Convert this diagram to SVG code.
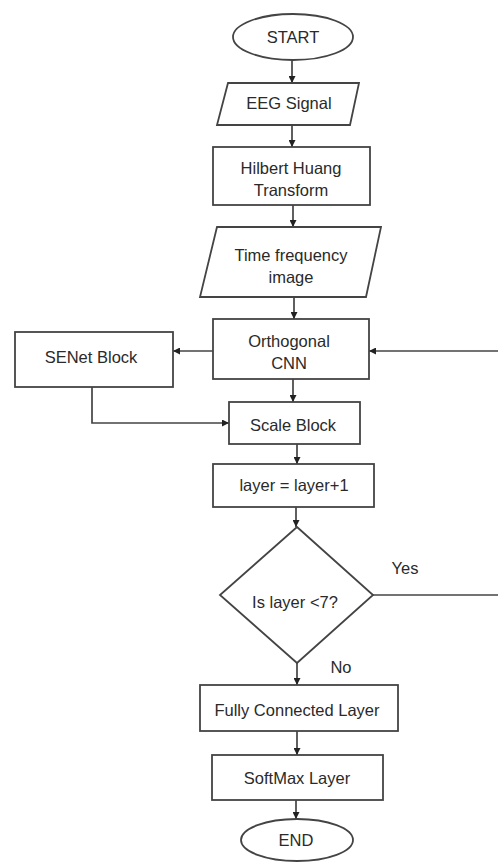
<svg xmlns="http://www.w3.org/2000/svg" width="498" height="863" viewBox="0 0 498 863">
<defs>
<marker id="ah" viewBox="0 0 8 8" refX="8" refY="4" markerWidth="7" markerHeight="7" markerUnits="userSpaceOnUse" orient="auto">
<path d="M0,0 L8,4 L0,8 z" fill="#222"/>
</marker>
<style>
.s{fill:#fff;stroke:#444;stroke-width:1.8}
.t{font-family:"Liberation Sans",Arial,sans-serif;font-size:16.5px;fill:#2a2a2a;text-anchor:middle}
.c{fill:none;stroke:#444;stroke-width:1.7}
.a{marker-end:url(#ah)}
</style>
</defs>
<rect width="498" height="863" fill="#fff"/>
<g id="connectors">
<line class="c a" x1="292" y1="60" x2="292" y2="83"/>
<line class="c a" x1="292" y1="125" x2="292" y2="147"/>
<line class="c a" x1="293" y1="205" x2="293" y2="227"/>
<line class="c a" x1="294" y1="297" x2="294" y2="319"/>
<line class="c a" x1="213" y1="351" x2="173" y2="351"/>
<line class="c a" x1="498" y1="351" x2="369" y2="351"/>
<line class="c a" x1="293" y1="379" x2="293" y2="402"/>
<polyline class="c a" points="92,387 92,423 229,423"/>
<line class="c a" x1="297" y1="444" x2="297" y2="464"/>
<line class="c a" x1="296" y1="507" x2="296" y2="527"/>
<line class="c" x1="373" y1="595" x2="498" y2="595"/>
<line class="c a" x1="297" y1="663" x2="297" y2="685"/>
<line class="c a" x1="297" y1="731" x2="297" y2="755"/>
<line class="c a" x1="296" y1="800" x2="296" y2="819"/>
</g>
<g id="start">
<ellipse class="s" cx="293" cy="37" rx="60" ry="23"/>
<text class="t" x="293" y="43">START</text>
</g>
<g id="eeg">
<polygon class="s" points="228,83 359,83 350,125 217,125"/>
<text class="t" x="289" y="109">EEG Signal</text>
</g>
<g id="hht">
<rect class="s" x="213" y="147" width="157" height="58"/>
<text class="t" x="291" y="174">Hilbert Huang</text>
<text class="t" x="291" y="196">Transform</text>
</g>
<g id="tfi">
<polygon class="s" points="217,227 381,227 366,297 200,297"/>
<text class="t" x="291" y="261">Time frequency</text>
<text class="t" x="291" y="283">image</text>
</g>
<g id="ocnn">
<rect class="s" x="213" y="319" width="156" height="60"/>
<text class="t" x="289" y="347">Orthogonal</text>
<text class="t" x="289" y="369">CNN</text>
</g>
<g id="senet">
<rect class="s" x="15" y="332" width="158" height="55"/>
<text class="t" x="91" y="363">SENet Block</text>
</g>
<g id="scale">
<rect class="s" x="229" y="402" width="131" height="42"/>
<text class="t" x="293" y="431">Scale Block</text>
</g>
<g id="layer">
<rect class="s" x="213" y="464" width="161" height="43"/>
<text class="t" x="294" y="491">layer = layer+1</text>
</g>
<g id="decision">
<polygon class="s" points="297,527 373,595 297,663 220,595"/>
<text class="t" x="295" y="608">Is layer &lt;7?</text>
</g>
<text class="t" x="405" y="574">Yes</text>
<text class="t" x="341" y="673">No</text>
<g id="fc">
<rect class="s" x="200" y="685" width="198" height="46"/>
<text class="t" x="297" y="716">Fully Connected Layer</text>
</g>
<g id="softmax">
<rect class="s" x="212" y="755" width="171" height="45"/>
<text class="t" x="297" y="784">SoftMax Layer</text>
</g>
<g id="end">
<ellipse class="s" cx="297" cy="840" rx="56" ry="21"/>
<text class="t" x="296" y="846">END</text>
</g>
</svg>
